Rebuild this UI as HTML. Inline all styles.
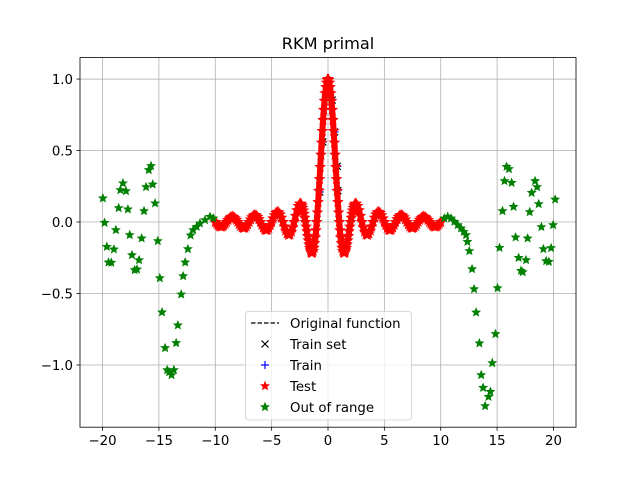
<!DOCTYPE html>
<html><head><meta charset="utf-8"><style>
body{margin:0;background:#fff}
svg{display:block;font-family:"DejaVu Sans","Liberation Sans",sans-serif}
</style></head><body>
<svg id="chart" width="640" height="480" viewBox="0 0 640 480" xmlns="http://www.w3.org/2000/svg">
<rect width="640" height="480" fill="#fff"/>
<text x="328" y="49" text-anchor="middle" font-size="16.2">RKM primal</text>
<g id="grid"></g>
<g id="ticks"></g>
<g id="series"></g>
<rect x="80" y="57.6" width="496" height="369.6" fill="none" stroke="#000" stroke-width="0.8"/>
<g id="legend">
<rect x="245.5" y="311.5" width="166" height="108.5" rx="3" fill="#fff" fill-opacity="0.8" stroke="#ccc" stroke-width="0.8"/>
</g>
</svg>
<script>
// ---- data ----
const xTicks=[-20,-15,-10,-5,0,5,10,15,20];
const yTicks=[-1.0,-0.5,0.0,0.5,1.0];
const yTickLabels=["\u22121.0","\u22120.5","0.0","0.5","1.0"];
// function values at x = k/8, k = 0..80 (x from 0 to 10)
const funcHalf=[1,0.9745,0.9003,0.7842,0.6366,0.4705,0.3001,0.1392,0,-0.1083,-0.1801,-0.2139,-0.2122,-0.1810,-0.1286,-0.0650,0,0.0573,0.1000,0.1238,0.1273,0.1120,0.0818,0.0424,0,-0.0390,-0.0693,-0.0871,-0.0909,-0.0811,-0.0600,-0.0314,0,0.0295,0.0530,0.0672,0.0707,0.0636,0.0474,0.0250,0,-0.0238,-0.0429,-0.0547,-0.0579,-0.0523,-0.0391,-0.0207,0,0.0199,0.0360,0.0461,0.0490,0.0444,0.0333,0.0177,0,-0.0171,-0.0310,-0.0399,-0.0424,-0.0386,-0.0290,-0.0155,0,0.0150,0.0273,0.0351,0.0374,0.0341,0.0257,0.0137,0,-0.0133,-0.0243,-0.0314,-0.0335,-0.0306,-0.0231,-0.0123,0];
// extra test predictions at x = k/16, k odd 1..39 (dense near peak)
const testFineHalf=[0.9936,0.9432,0.8470,0.7136,0.5550,0.3850,0.2177,0.0662,-0.0584,-0.1489,-0.2017,-0.2172,-0.1998,-0.1568,-0.0976,-0.0321,0.0301,0.0808,0.1145,0.1281];
const trainX=[-0.73,-0.46,0.37,0.58,0.82,0.87,-1.4,1.6];
const trainY=[0.21,0.56,0.853,0.63,0.39,0.22,-0.17,-0.18];
const oorX=[-19.97,-19.82,-19.62,-19.47,-19.22,-18.99,-18.82,-18.57,-18.42,-18.19,-17.92,-17.75,-17.59,-17.39,-17.15,-16.94,-16.76,-16.53,-16.32,-16.14,-15.90,-15.70,-15.55,-15.34,-15.10,-14.92,-14.72,-14.45,-14.27,-14.10,-13.88,-13.67,-13.47,-13.32,-13.02,-12.85,-12.67,-12.43,-12.19,-11.96,-11.65,-11.36,-10.91,-10.47,-10.17,
10.32,10.62,10.91,11.21,11.51,11.80,12.04,12.25,12.37,12.54,12.78,12.96,13.14,13.43,13.59,13.76,13.94,14.24,14.41,14.57,14.86,15.04,15.22,15.48,15.66,15.84,16.05,16.29,16.46,16.64,16.91,17.12,17.27,17.57,17.71,17.89,18.07,18.37,18.55,18.69,18.93,19.11,19.35,19.59,19.79,19.97,20.15];
const oorY=[0.166,-0.005,-0.173,-0.282,-0.284,-0.191,-0.056,0.098,0.224,0.271,0.217,0.089,-0.091,-0.231,-0.336,-0.331,-0.266,-0.114,0.077,0.245,0.364,0.392,0.263,0.131,-0.133,-0.392,-0.631,-0.881,-1.035,-1.05,-1.070,-1.035,-0.846,-0.722,-0.506,-0.378,-0.282,-0.189,-0.093,-0.056,-0.033,-0.009,0.014,0.037,0.026,
0.026,0.037,0.026,0.003,-0.021,-0.044,-0.068,-0.091,-0.138,-0.203,-0.329,-0.469,-0.632,-0.848,-1.070,-1.159,-1.287,-1.222,-1.187,-0.986,-0.783,-0.462,-0.180,0.077,0.287,0.387,0.371,0.275,0.107,-0.107,-0.250,-0.341,-0.350,-0.266,-0.114,0.070,0.205,0.287,0.245,0.126,-0.035,-0.189,-0.273,-0.278,-0.182,-0.021,0.158];

// ---- axes ----
const X0=80,X1=576,Y0=57.6,Y1=427.2;
const xmin=-22,xmax=22,ymin=-1.435,ymax=1.15;
const sx=v=>X0+(v-xmin)/(xmax-xmin)*(X1-X0);
const sy=v=>Y1-(v-ymin)/(ymax-ymin)*(Y1-Y0);
const NS="http://www.w3.org/2000/svg";
function mk(tag,attrs,parent){const e=document.createElementNS(NS,tag);for(const k in attrs)e.setAttribute(k,attrs[k]);parent.appendChild(e);return e;}
const grid=document.getElementById('grid'),ticks=document.getElementById('ticks'),series=document.getElementById('series');
const FS=13.3;

xTicks.forEach(t=>{
  const x=sx(t);
  const g=mk('line',{x1:x,x2:x,y1:Y0,y2:Y1,stroke:'#b0b0b0','stroke-width':0.8},grid);
  
  
  const tk=mk('line',{x1:x,x2:x,y1:Y1,y2:Y1+3.5,stroke:'#000','stroke-width':0.8},ticks);
  
  
  const tl=mk('text',{x:x,y:Y1+18,'text-anchor':'middle','font-size':FS},ticks);
  tl.textContent=t<0?'\u2212'+(-t):String(t);
  
  
});
yTicks.forEach((t,i)=>{
  const y=sy(t);
  const g=mk('line',{x1:X0,x2:X1,y1:y,y2:y,stroke:'#b0b0b0','stroke-width':0.8},grid);
  
  
  const tk=mk('line',{x1:X0-3.5,x2:X0,y1:y,y2:y,stroke:'#000','stroke-width':0.8},ticks);
  
  
  const tl=mk('text',{x:X0-7,y:y+5,'text-anchor':'end','font-size':FS},ticks);
  tl.textContent=yTickLabels[i];
  
  
});

function starPath(cx,cy,R){let d='';const r=R*0.45;for(let i=0;i<10;i++){const a=-Math.PI/2+i*Math.PI/5;const rr=i%2?r:R;d+=(i?'L':'M')+(cx+rr*Math.cos(a)).toFixed(2)+' '+(cy+rr*Math.sin(a)).toFixed(2);}return d+'Z';}

const fx=[],fy=[];
for(let k=-80;k<=80;k++){fx.push(k/8);fy.push(funcHalf[Math.abs(k)]);}
const tx=fx.slice(),ty=fy.slice();
testFineHalf.forEach((v,i)=>{const x=(2*i+1)/16;tx.push(x);ty.push(v);tx.push(-x);ty.push(v);});

const pl=mk('polyline',{points:fx.map((x,i)=>sx(x)+','+sy(fy[i])).join(' '),fill:'none',stroke:'#000','stroke-width':1.3,'stroke-dasharray':'4.5,2'},series);



trainX.forEach((x,i)=>{
  const cx=sx(x),cy=sy(trainY[i]),s=3.5;
  const m=mk('path',{d:`M${cx-s} ${cy-s}L${cx+s} ${cy+s}M${cx-s} ${cy+s}L${cx+s} ${cy-s}`,stroke:'#000','stroke-width':1.2},series);
  
  
});
trainX.forEach((x,i)=>{
  const cx=sx(x),cy=sy(trainY[i]),s=4;
  const m=mk('path',{d:`M${cx-s} ${cy}L${cx+s} ${cy}M${cx} ${cy-s}L${cx} ${cy+s}`,stroke:'#0000ff','stroke-width':1.2},series);
  
  
});
// test band (connects sorted test points so the dense markers form a continuous band)
const order=tx.map((x,i)=>i).sort((a,b)=>tx[a]-tx[b]);
const band=mk('polyline',{points:order.map(i=>sx(tx[i])+','+sy(ty[i])).join(' '),fill:'none',stroke:'#ff0000','stroke-width':6,'stroke-linejoin':'round','stroke-linecap':'round'},series);


tx.forEach((x,i)=>{
  const m=mk('path',{d:starPath(sx(x),sy(ty[i]),4.6),fill:'#ff0000',stroke:'#ff0000','stroke-width':1.2},series);
  
  
});
oorX.forEach((x,i)=>{
  const m=mk('path',{d:starPath(sx(x),sy(oorY[i]),4.2),fill:'#008000',stroke:'#008000','stroke-width':0.8},series);
  
  
});

const lg=document.getElementById('legend');
const rows=[['Original function','line'],['Train set','x'],['Train','plus'],['Test','red'],['Out of range','green']];
rows.forEach((r,i)=>{
  const y=323+i*21,cx=265;
  let m;
  if(r[1]==='line') m=mk('line',{x1:251,x2:279,y1:y,y2:y,stroke:'#000','stroke-width':1.3,'stroke-dasharray':'4.5,2'},lg);
  else if(r[1]==='x') m=mk('path',{d:`M${cx-3.5} ${y-3.5}L${cx+3.5} ${y+3.5}M${cx-3.5} ${y+3.5}L${cx+3.5} ${y-3.5}`,stroke:'#000','stroke-width':1.2},lg);
  else if(r[1]==='plus') m=mk('path',{d:`M${cx-4} ${y}L${cx+4} ${y}M${cx} ${y-4}L${cx} ${y+4}`,stroke:'#0000ff','stroke-width':1.2},lg);
  else m=mk('path',{d:starPath(cx,y,4.2),fill:r[1]==='red'?'#ff0000':'#008000',stroke:r[1]==='red'?'#ff0000':'#008000','stroke-width':0.8},lg);
  
  
  const t=mk('text',{x:290,y:y+5,'font-size':FS},lg);
  t.textContent=r[0];
  
  
});
</script>
</body></html>
